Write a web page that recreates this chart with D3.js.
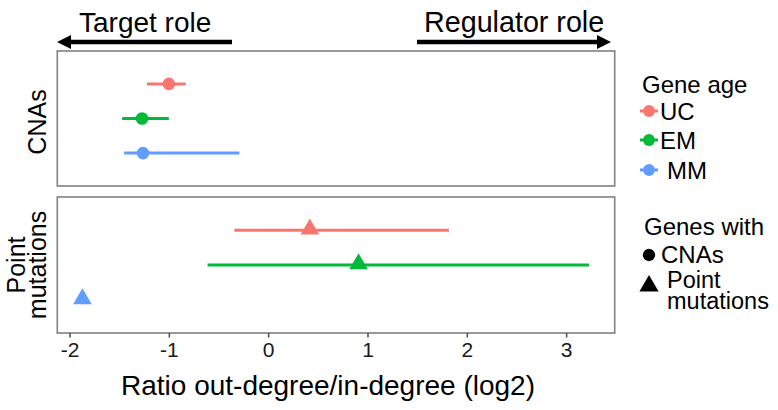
<!DOCTYPE html>
<html>
<head>
<meta charset="utf-8">
<script src="https://cdn.jsdelivr.net/npm/d3@7"></script>
<style>
  html, body { margin: 0; padding: 0; background: #fff; }
  svg { display: block; font-family: "Liberation Sans", Arial, sans-serif; }
</style>
</head>
<body>
<svg id="chart" width="778" height="410"></svg>
<script>
// ---- data ----
const ages = ["UC", "EM", "MM"];
const ageColors = ["#F8766D", "#00BA38", "#619CFF"];
const panels = ["CNAs", "Point mutations"];
// CNAs
const cnaMid = [-1.00, -1.27, -1.26];
const cnaLow = [-1.22, -1.47, -1.45];
const cnaHigh = [-0.83, -1.00, -0.29];
// Point mutations (MM has no interval)
const pmMid = [0.42, 0.91, -1.87];
const pmLow = [-0.34, -0.61, null];
const pmHigh = [1.82, 3.23, null];
const xTicks = [-2, -1, 0, 1, 2, 3];

const svg = d3.select("#chart");

const x = d3.scaleLinear().domain([-2.123, 3.489]).range([57.3, 614.7]);
const panelBoxes = [
  { top: 51, bottom: 186 },
  { top: 197, bottom: 333 }
];
const shapes = [d3.symbolCircle, d3.symbolTriangle];
const shapeSize = [125, 150];

const panelData = [
  ages.map((a, i) => ({ age: a, color: ageColors[i], mid: cnaMid[i], lo: cnaLow[i], hi: cnaHigh[i] })),
  ages.map((a, i) => ({ age: a, color: ageColors[i], mid: pmMid[i], lo: pmLow[i], hi: pmHigh[i] }))
];

panelBoxes.forEach((box, p) => {
  const y = d3.scalePoint().domain(ages).range([box.top, box.bottom]).padding(0.95);
  const g = svg.append("g");
  g.append("rect")
    .attr("x", x.range()[0]).attr("y", box.top)
    .attr("width", x.range()[1] - x.range()[0]).attr("height", box.bottom - box.top)
    .attr("fill", "none").attr("stroke", "#808080").attr("stroke-width", 1.6);
  const d = panelData[p];
  g.selectAll("line.err").data(d.filter(e => e.lo !== null)).enter().append("line")
    .attr("x1", e => x(e.lo)).attr("x2", e => x(e.hi))
    .attr("y1", e => y(e.age)).attr("y2", e => y(e.age))
    .attr("stroke", e => e.color).attr("stroke-width", 3);
  g.selectAll("path.pt").data(d).enter().append("path")
    .attr("d", d3.symbol().type(shapes[p]).size(shapeSize[p]))
    .attr("transform", e => `translate(${x(e.mid)},${y(e.age) - (p === 1 ? 1 : 0)})`)
    .attr("fill", e => e.color);
});

// strip labels (left)
svg.append("text").attr("transform", "translate(46,122) rotate(-90)")
  .attr("text-anchor", "middle").attr("font-size", 25).text(panels[0]);
const pm = svg.append("text").attr("transform", "translate(25,265) rotate(-90)")
  .attr("text-anchor", "middle").attr("font-size", 25);
pm.append("tspan").attr("x", 0).attr("dy", 0).text("Point");
pm.append("tspan").attr("x", 0).attr("dy", 21).text("mutations");

// x axis
const axis = d3.axisBottom(x).tickValues(xTicks).tickSize(4.5).tickPadding(5).tickFormat(d3.format("d"));
const ax = svg.append("g").attr("transform", `translate(0,${panelBoxes[1].bottom})`).call(axis);
ax.select(".domain").remove();
ax.selectAll(".tick line").attr("stroke", "#555").attr("stroke-width", 1.6);
ax.selectAll(".tick text").attr("font-size", 21).attr("fill", "#1a1a1a")
  .attr("font-family", "Liberation Sans, Arial, sans-serif").text(d => d < 0 ? "-" + Math.abs(d) : d);

svg.append("text").attr("x", 328).attr("y", 395).attr("text-anchor", "middle")
  .attr("font-size", 28).text("Ratio out-degree/in-degree (log2)");

// role arrows
function arrow(x1, x2, yy) {
  const dir = Math.sign(x2 - x1);
  svg.append("line").attr("x1", x1).attr("x2", x2 - dir * 8).attr("y1", yy).attr("y2", yy)
    .attr("stroke", "#000").attr("stroke-width", 4.5);
  svg.append("path")
    .attr("d", `M${x2},${yy} L${x2 - dir * 14},${yy - 7} L${x2 - dir * 14},${yy + 7} Z`)
    .attr("fill", "#000");
}
arrow(232, 57, 42);
arrow(417, 611, 42);
svg.append("text").attr("x", 79).attr("y", 32).attr("font-size", 28).text("Target role");
svg.append("text").attr("x", 424).attr("y", 32).attr("font-size", 28.7).text("Regulator role");

// legend: gene age
const lg = svg.append("g");
lg.append("text").attr("x", 642).attr("y", 93).attr("font-size", 24).text("Gene age");
const legY = [111, 140, 170];
ages.forEach((a, i) => {
  lg.append("line").attr("x1", 640).attr("x2", 658).attr("y1", legY[i]).attr("y2", legY[i])
    .attr("stroke", ageColors[i]).attr("stroke-width", 3);
  lg.append("path").attr("d", d3.symbol().type(d3.symbolCircle).size(110))
    .attr("transform", `translate(649,${legY[i]})`).attr("fill", ageColors[i]);
  lg.append("text").attr("x", a === "MM" ? 667 : 660).attr("y", legY[i] + 8.5)
    .attr("font-size", 24).text(a);
});

// legend: shape
lg.append("text").attr("x", 644).attr("y", 235).attr("font-size", 24).text("Genes with");
lg.append("path").attr("d", d3.symbol().type(d3.symbolCircle).size(120))
  .attr("transform", "translate(649,255)").attr("fill", "#000");
lg.append("text").attr("x", 661).attr("y", 263).attr("font-size", 24).text("CNAs");
lg.append("path").attr("d", d3.symbol().type(d3.symbolTriangle).size(160))
  .attr("transform", "translate(649,286)").attr("fill", "#000");
const lt = lg.append("text").attr("font-size", 23.5);
lt.append("tspan").attr("x", 667).attr("y", 288).text("Point");
lt.append("tspan").attr("x", 667).attr("y", 309).text("mutations");
</script>
</body>
</html>
